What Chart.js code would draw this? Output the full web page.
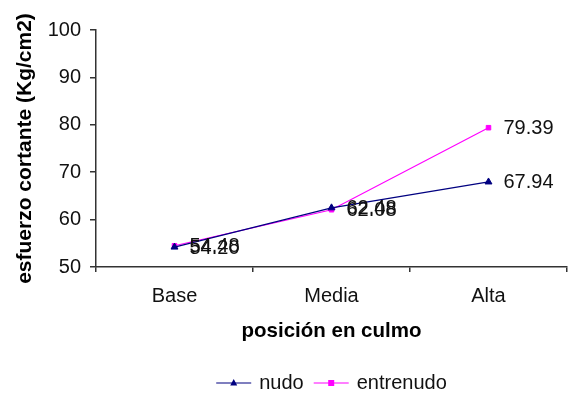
<!DOCTYPE html>
<html>
<head>
<meta charset="utf-8">
<script src="https://cdn.jsdelivr.net/npm/chart.js@4"></script>
<style>
  html, body { margin: 0; padding: 0; background: #fff; }
  #wrap { width: 572px; height: 394px; position: relative; }
</style>
</head>
<body>
<div id="wrap"><canvas id="c" width="572" height="394"></canvas></div>
<script>
// Esfuerzo cortante por posición en el culmo
const categories = ['Base', 'Media', 'Alta'];
const nudo = [54.20, 62.48, 67.94];
const entrenudo = [54.48, 62.08, 79.39];
const yTicks = [50, 60, 70, 80, 90, 100];

const FONT = '"Liberation Sans", Arial, sans-serif';
const NAVY = '#000080';
const MAGENTA = '#FF00FF';
const AXIS = '#333333';
const TEXT = '#111111';

// Value labels to the right of each point
const valueLabels = {
  id: 'valueLabels',
  afterDatasetsDraw(chart) {
    const ctx = chart.ctx;
    ctx.save();
    ctx.font = '20px ' + FONT;
    ctx.fillStyle = TEXT;
    ctx.textAlign = 'left';
    ctx.textBaseline = 'middle';
    chart.data.datasets.forEach((ds, i) => {
      const meta = chart.getDatasetMeta(i);
      meta.data.forEach((pt, j) => {
        ctx.fillText(ds.data[j].toFixed(2), pt.x + 15, pt.y + 1);
      });
    });
    ctx.restore();
  }
};

// Legend: line sample with its marker in the middle, then the series name,
// centred under the plot area
const lineLegend = {
  id: 'lineLegend',
  afterDraw(chart) {
    const ctx = chart.ctx;
    const area = chart.chartArea;
    ctx.save();
    ctx.font = '20px ' + FONT;
    ctx.textBaseline = 'middle';
    const y = 383;
    const items = chart.data.datasets.map(ds => ({
      label: ds.label, color: ds.borderColor, style: ds.pointStyle
    }));
    const lineLen = 35, gap = 8, between = 10;
    let total = 0;
    items.forEach((it, k) => {
      total += lineLen + gap + ctx.measureText(it.label).width + (k ? between : 0);
    });
    let x = (area.left + area.right - total) / 2;
    items.forEach((it, k) => {
      if (k) x += between;
      ctx.strokeStyle = it.color;
      ctx.fillStyle = it.color;
      ctx.lineWidth = 1.2;
      ctx.beginPath();
      ctx.moveTo(x, y);
      ctx.lineTo(x + lineLen, y);
      ctx.stroke();
      const cx = x + lineLen / 2;
      if (it.style === 'triangle') {
        ctx.beginPath();
        ctx.moveTo(cx, y - 4);
        ctx.lineTo(cx + 3.5, y + 2.5);
        ctx.lineTo(cx - 3.5, y + 2.5);
        ctx.closePath();
        ctx.fill();
      } else {
        ctx.fillRect(cx - 3, y - 3, 6, 6);
      }
      x += lineLen + gap;
      ctx.fillStyle = TEXT;
      ctx.textAlign = 'left';
      ctx.fillText(it.label, x, y);
      x += ctx.measureText(it.label).width;
    });
    ctx.restore();
  }
};

new Chart(document.getElementById('c'), {
  type: 'line',
  data: {
    labels: categories,
    datasets: [
      {
        label: 'nudo',
        data: nudo,
        borderColor: NAVY,
        backgroundColor: NAVY,
        borderWidth: 1.2,
        pointStyle: 'triangle',
        pointRadius: 4,
        pointBorderWidth: 1,
        tension: 0
      },
      {
        label: 'entrenudo',
        data: entrenudo,
        borderColor: MAGENTA,
        backgroundColor: MAGENTA,
        borderWidth: 1.2,
        pointStyle: 'rect',
        pointRadius: 3.2,
        pointBorderWidth: 1,
        tension: 0
      }
    ]
  },
  options: {
    responsive: false,
    animation: false,
    devicePixelRatio: 1,
    layout: { padding: { top: 30, right: -2, bottom: 50, left: 0 } },
    plugins: {
      legend: { display: false },
      tooltip: { enabled: false }
    },
    scales: {
      x: {
        type: 'category',
        offset: true,
        afterFit(scale) {
          scale.height = 77;
          scale.paddingLeft = 0;
          scale.paddingRight = 0;
        },
        border: { display: true, color: AXIS, width: 1.5 },
        grid: { offset: true, drawOnChartArea: false, drawTicks: true, tickLength: 5, color: AXIS, lineWidth: 1.5 },
        ticks: { color: TEXT, font: { family: FONT, size: 20 }, padding: 12 },
        title: {
          display: true,
          text: 'posición en culmo',
          color: '#000',
          font: { family: FONT, size: 20.5, weight: 'bold' },
          padding: { top: 0, bottom: 0 }
        }
      },
      y: {
        min: 50,
        max: 100,
        afterFit(scale) { scale.width = 96; },
        afterBuildTicks(scale) { scale.ticks = yTicks.map(v => ({ value: v })); },
        border: { display: true, color: AXIS, width: 1.5 },
        grid: { drawOnChartArea: false, drawTicks: true, tickLength: 6, color: AXIS, lineWidth: 1.5 },
        ticks: { color: TEXT, font: { family: FONT, size: 20 }, padding: 9 },
        title: {
          display: true,
          text: 'esfuerzo cortante (Kg/cm2)',
          color: '#000',
          font: { family: FONT, size: 21, weight: 'bold' },
          padding: { top: 13, bottom: 0 }
        }
      }
    }
  },
  plugins: [valueLabels, lineLegend]
});
</script>
</body>
</html>
